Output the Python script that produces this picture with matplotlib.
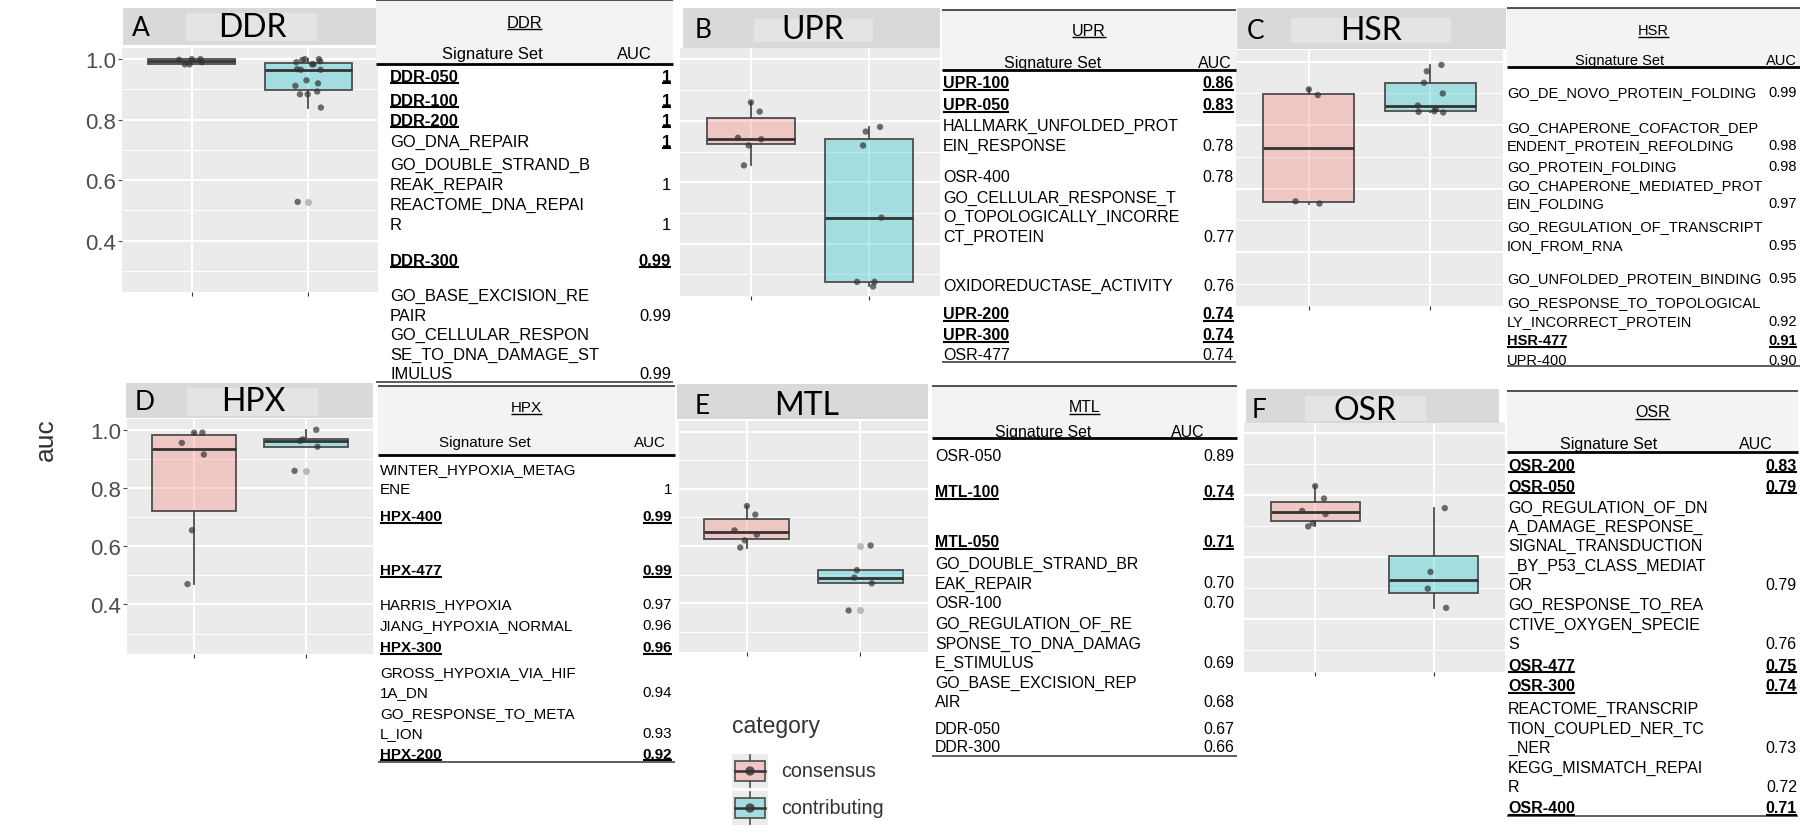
import matplotlib
matplotlib.use('Agg')
import matplotlib.pyplot as plt
from matplotlib.patches import Rectangle
import numpy as np

W, H = 1800, 829
fig = plt.figure(figsize=(18, 8.29), dpi=100)

# ---------------- data ----------------
groups = ['consensus', 'contributing']

ddr_consensus = [1.0, 1.0, 0.998, 0.99, 0.983, 0.983]
ddr_contributing = [1.0, 1.0, 0.997, 0.993, 0.99, 0.983, 0.983, 0.967, 0.965, 0.965,
                    0.93, 0.92, 0.912, 0.893, 0.884, 0.884, 0.84, 0.528]
upr_consensus = [0.86, 0.83, 0.745, 0.74, 0.72, 0.655]
upr_contributing = [0.78, 0.765, 0.72, 0.485, 0.276, 0.276, 0.261]
hsr_consensus = [0.913, 0.895, 0.56, 0.553]
hsr_contributing = [0.99, 0.97, 0.934, 0.9, 0.862, 0.85, 0.844, 0.842, 0.84]
hpx_consensus = [0.99, 0.99, 0.955, 0.915, 0.655, 0.47]
hpx_contributing = [1.0, 0.967, 0.962, 0.942, 0.859]
mtl_consensus = [0.74, 0.71, 0.655, 0.64, 0.62, 0.595]
mtl_contributing = [0.602, 0.516, 0.49, 0.47, 0.375]
osr_consensus = [0.83, 0.79, 0.75, 0.74, 0.71, 0.70]
osr_contributing = [0.759, 0.553, 0.499, 0.437]

panel_letters = ['A', 'B', 'C', 'D', 'E', 'F']
panel_titles = ['DDR', 'UPR', 'HSR', 'HPX', 'MTL', 'OSR']

y_ticks = [0.4, 0.6, 0.8, 1.0]
y_minor = [0.3, 0.5, 0.7, 0.9]

# tables: names, AUC labels, bold name flag, bold AUC flag
ddr_names = ['DDR-050', 'DDR-100', 'DDR-200', 'GO_DNA_REPAIR',
             'GO_DOUBLE_STRAND_B\nREAK_REPAIR', 'REACTOME_DNA_REPAI\nR', 'DDR-300',
             'GO_BASE_EXCISION_RE\nPAIR', 'GO_CELLULAR_RESPON\nSE_TO_DNA_DAMAGE_ST\nIMULUS']
ddr_auc = ['1', '1', '1', '1', '1', '1', '0.99', '0.99', '0.99']
ddr_bold = [1, 1, 1, 0, 0, 0, 1, 0, 0]
ddr_bold_auc = [1, 1, 1, 1, 0, 0, 1, 0, 0]

upr_names = ['UPR-100', 'UPR-050', 'HALLMARK_UNFOLDED_PROT\nEIN_RESPONSE', 'OSR-400',
             'GO_CELLULAR_RESPONSE_T\nO_TOPOLOGICALLY_INCORRE\nCT_PROTEIN',
             'OXIDOREDUCTASE_ACTIVITY', 'UPR-200', 'UPR-300', 'OSR-477']
upr_auc = ['0.86', '0.83', '0.78', '0.78', '0.77', '0.76', '0.74', '0.74', '0.74']
upr_bold = [1, 1, 0, 0, 0, 0, 1, 1, 0]
upr_bold_auc = upr_bold

hsr_names = ['GO_DE_NOVO_PROTEIN_FOLDING', 'GO_CHAPERONE_COFACTOR_DEP\nENDENT_PROTEIN_REFOLDING',
             'GO_PROTEIN_FOLDING', 'GO_CHAPERONE_MEDIATED_PROT\nEIN_FOLDING',
             'GO_REGULATION_OF_TRANSCRIPT\nION_FROM_RNA', 'GO_UNFOLDED_PROTEIN_BINDING',
             'GO_RESPONSE_TO_TOPOLOGICAL\nLY_INCORRECT_PROTEIN', 'HSR-477', 'UPR-400']
hsr_auc = ['0.99', '0.98', '0.98', '0.97', '0.95', '0.95', '0.92', '0.91', '0.90']
hsr_bold = [0, 0, 0, 0, 0, 0, 0, 1, 0]
hsr_bold_auc = hsr_bold

hpx_names = ['WINTER_HYPOXIA_METAG\nENE', 'HPX-400', 'HPX-477', 'HARRIS_HYPOXIA',
             'JIANG_HYPOXIA_NORMAL', 'HPX-300', 'GROSS_HYPOXIA_VIA_HIF\n1A_DN',
             'GO_RESPONSE_TO_META\nL_ION', 'HPX-200']
hpx_auc = ['1', '0.99', '0.99', '0.97', '0.96', '0.96', '0.94', '0.93', '0.92']
hpx_bold = [0, 1, 1, 0, 0, 1, 0, 0, 1]
hpx_bold_auc = hpx_bold

mtl_names = ['OSR-050', 'MTL-100', 'MTL-050', 'GO_DOUBLE_STRAND_BR\nEAK_REPAIR', 'OSR-100',
             'GO_REGULATION_OF_RE\nSPONSE_TO_DNA_DAMAG\nE_STIMULUS',
             'GO_BASE_EXCISION_REP\nAIR', 'DDR-050', 'DDR-300']
mtl_auc = ['0.89', '0.74', '0.71', '0.70', '0.70', '0.69', '0.68', '0.67', '0.66']
mtl_bold = [0, 1, 1, 0, 0, 0, 0, 0, 0]
mtl_bold_auc = mtl_bold

osr_names = ['OSR-200', 'OSR-050',
             'GO_REGULATION_OF_DN\nA_DAMAGE_RESPONSE_\nSIGNAL_TRANSDUCTION\n_BY_P53_CLASS_MEDIAT\nOR',
             'GO_RESPONSE_TO_REA\nCTIVE_OXYGEN_SPECIE\nS', 'OSR-477', 'OSR-300',
             'REACTOME_TRANSCRIP\nTION_COUPLED_NER_TC\n_NER', 'KEGG_MISMATCH_REPAI\nR', 'OSR-400']
osr_auc = ['0.83', '0.79', '0.79', '0.76', '0.75', '0.74', '0.73', '0.72', '0.71']
osr_bold = [1, 1, 0, 0, 1, 1, 0, 0, 1]
osr_bold_auc = osr_bold

# ---------------- layout (pixels, y downward) ----------------
panel_boxes = [(122, 49, 378, 293), (680, 49, 940, 297), (1236, 51, 1503, 307),
               (127, 420, 373, 655), (679, 422, 928, 653), (1244, 423, 1505, 673)]
strip_boxes = [(123, 9, 379, 46), (683, 9, 940, 49), (1237, 9, 1506, 50),
               (126, 384, 373, 419), (677, 385, 928, 420), (1246, 390, 1499, 424)]
strip_inner = [(186, 14, 317, 42), (754, 20, 873, 43), (1291, 19, 1451, 44),
               (187, 389, 318, 417), None, (1305, 397, 1426, 422)]
strip_letter_x = [132, 695, 1247, 135, 695, 1252]
strip_title_x = [252, 813, 1371, 253, 807, 1365]
strip_text_y = [28, 30, 31, 402, 406, 411]

tables_layout = {
    'DDR': dict(x0=376, x1=673, top=1, title_y=22, head_y=53, thick_y=65, bottom=383,
                left=390, right=671, sig_x=492, auc_x=634, fs=11.9, ls=19.7,
                rows=[76, 100, 120, 141, 164, 204, 260, 295, 334]),
    'UPR': dict(x0=942, x1=1236, top=10.7, title_y=30, head_y=62, thick_y=70.7, bottom=363.3,
                left=943, right=1234, sig_x=1053, auc_x=1215, fs=11.5, ls=19.8,
                rows=[82.7, 104.3, 125, 176.7, 196.7, 285, 313.3, 334.3, 354]),
    'HSR': dict(x0=1507, x1=1800, top=9.3, title_y=30, head_y=60, thick_y=67.7, bottom=367.4,
                left=1507, right=1797, sig_x=1620, auc_x=1781, fs=10.5, ls=18.4,
                rows=[91.8, 126.3, 165.3, 184.8, 226.2, 277.8, 301.9, 339.8, 359.3]),
    'HPX': dict(x0=378, x1=675, top=387, title_y=407, head_y=442, thick_y=456, bottom=763.3,
                left=380, right=672, sig_x=485, auc_x=650, fs=10.9, ls=20,
                rows=[469, 516, 570, 603.3, 625, 646.7, 671.7, 712.7, 753.3]),
    'MTL': dict(x0=932, x1=1237, top=386.7, title_y=406.7, head_y=431.7, thick_y=439.3,
                bottom=756.7, left=935, right=1234, sig_x=1043, auc_x=1188, fs=11.4, ls=19.5,
                rows=[455, 491.7, 541.7, 563.3, 602.7, 623.3, 681.7, 728.3, 746.7]),
    'OSR': dict(x0=1507, x1=1798, top=392, title_y=411.7, head_y=443.3, thick_y=452.7,
                bottom=817.3, left=1508, right=1797, sig_x=1609, auc_x=1756, fs=11.5, ls=19.4,
                rows=[465, 486, 506.7, 604.3, 665, 685.7, 708.3, 767.3, 807.7]),
}
table_data = {
    'DDR': (ddr_names, ddr_auc, ddr_bold, ddr_bold_auc),
    'UPR': (upr_names, upr_auc, upr_bold, upr_bold_auc),
    'HSR': (hsr_names, hsr_auc, hsr_bold, hsr_bold_auc),
    'HPX': (hpx_names, hpx_auc, hpx_bold, hpx_bold_auc),
    'MTL': (mtl_names, mtl_auc, mtl_bold, mtl_bold_auc),
    'OSR': (osr_names, osr_auc, osr_bold, osr_bold_auc),
}

panel_data = [(ddr_consensus, ddr_contributing), (upr_consensus, upr_contributing),
              (hsr_consensus, hsr_contributing), (hpx_consensus, hpx_contributing),
              (mtl_consensus, mtl_contributing), (osr_consensus, osr_contributing)]

fill_colors = ['#F8766D', '#00BFC4']
TABLE_FONT = 'Liberation Sans'
STRIP_FONT = 'Lato'


def px_axes(x0, y0, x1, y1):
    return fig.add_axes([x0 / W, 1 - y1 / H, (x1 - x0) / W, (y1 - y0) / H])


# ---------------- box panels ----------------
for i, ((cons, contr), box) in enumerate(zip(panel_data, panel_boxes)):
    ax = px_axes(*box)
    ax.set_facecolor('#ebebeb')
    bp = ax.boxplot([cons, contr], positions=[1, 2], widths=0.75, patch_artist=True,
                    whis=1.5, showcaps=False, manage_ticks=False,
                    flierprops=dict(marker='o', markerfacecolor='#aaaaaa',
                                    markeredgecolor='none', markersize=5, alpha=0.8),
                    medianprops=dict(color='#333333', lw=2.0),
                    whiskerprops=dict(color='#4d4d4d', lw=1.3),
                    boxprops=dict(edgecolor='#4d4d4d', lw=1.3))
    for patch, c in zip(bp['boxes'], fill_colors):
        patch.set_facecolor(matplotlib.colors.to_rgba(c, 0.3))
    for g, vals in enumerate([cons, contr]):
        n = len(vals)
        offs = np.array([0.11 * np.sin(k * 2.4 + g) for k in range(n)])
        ax.scatter(g + 1 + offs, vals, s=21, color='#333333', alpha=0.7,
                   edgecolors='none', zorder=5)

    ax.set_xlim(0.4, 2.6)
    ax.set_ylim(0.23, 1.037)
    ax.set_yticks(y_ticks)
    ax.set_yticks(y_minor, minor=True)
    ax.set_xticks([1, 2])
    ax.set_xticklabels(['', ''])
    ax.set_axisbelow(True)
    ax.grid(True, which='major', color='white', lw=1.5)
    ax.grid(True, which='minor', axis='y', color='white', lw=0.8)
    for s in ax.spines.values():
        s.set_visible(False)
    ax.tick_params(axis='x', length=3, color='#333333', width=0.8)
    ax.tick_params(axis='y', which='minor', length=0)
    if i in (0, 3):
        ax.tick_params(axis='y', which='major', labelsize=16, labelcolor='#4d4d4d',
                       length=3, color='#4d4d4d', pad=1)
        ax.set_yticklabels(['%.1f' % t for t in y_ticks], family='Liberation Sans')
    else:
        ax.tick_params(axis='y', which='major', labelleft=False, length=0)

# ---------------- overlay ----------------
ov = fig.add_axes([0, 0, 1, 1])
ov.set_xlim(0, W)
ov.set_ylim(H, 0)
ov.axis('off')

# strips
for i in range(6):
    x0, y0, x1, y1 = strip_boxes[i]
    ov.add_patch(Rectangle((x0, y0), x1 - x0, y1 - y0, facecolor='#d9d9d9', edgecolor='none'))
    if strip_inner[i] is not None:
        a0, b0, a1, b1 = strip_inner[i]
        ov.add_patch(Rectangle((a0, b0), a1 - a0, b1 - b0, facecolor='#e4e4e4', edgecolor='none'))
    ov.text(strip_letter_x[i], strip_text_y[i], panel_letters[i], fontsize=19,
            family=STRIP_FONT, ha='left', va='center', color='black')
    ov.text(strip_title_x[i], strip_text_y[i], panel_titles[i], fontsize=23,
            family=STRIP_FONT, ha='center', va='center', color='black')

# y label
ov.text(46, 440, 'auc', rotation=90, fontsize=19, color='#333333', ha='center',
        va='center', family='Liberation Sans')


def baseline(yc, fs):
    return yc + 0.716 * fs * 100 / 72 / 2


underlines = []


def ttext(x, yc, s, fs, ha='left', bold=False, underline=False):
    t = ov.text(x, baseline(yc, fs), s, fontsize=fs, family=TABLE_FONT, ha=ha,
                va='baseline', color='black', fontweight='bold' if bold else 'normal')
    if underline:
        underlines.append((t, baseline(yc, fs) + 2.5, 1.5 if bold else 1.0))
    return t


for key, L in tables_layout.items():
    names, aucs, bn, ba = table_data[key]
    fs = L['fs']
    ov.add_patch(Rectangle((L['x0'], L['top']), L['x1'] - L['x0'], L['thick_y'] - L['top'],
                           facecolor='#f3f3f3', edgecolor='none'))
    ov.plot([L['x0'], L['x1']], [L['top'], L['top']], color='#222222', lw=1.1,
            solid_capstyle='butt')
    ov.plot([L['x0'], L['x1']], [L['thick_y'], L['thick_y']], color='black', lw=2.0,
            solid_capstyle='butt')
    ov.plot([L['x0'], L['x1']], [L['bottom'], L['bottom']], color='#333333', lw=1.1,
            solid_capstyle='butt')
    ttext((L['x0'] + L['x1']) / 2, L['title_y'], key, fs, ha='center', underline=True)
    ttext(L['sig_x'], L['head_y'], 'Signature Set', fs, ha='center')
    ttext(L['auc_x'], L['head_y'], 'AUC', fs, ha='center')
    for name, auc, b1, b2, y0 in zip(names, aucs, bn, ba, L['rows']):
        lines = name.split('\n')
        for k, ln in enumerate(lines):
            ttext(L['left'], y0 + k * L['ls'], ln, fs, bold=bool(b1), underline=bool(b1))
        ylast = y0 + (len(lines) - 1) * L['ls']
        ttext(L['right'], ylast, auc, fs, ha='right', bold=bool(b2), underline=bool(b2))

# legend
ov.text(732, 727, 'category', fontsize=16.5, color='#333333', family='Liberation Sans',
        ha='left', va='center')
legend_y = [772, 809]
for g, yc in enumerate(legend_y):
    kx0, ky0 = 732, yc - 17
    ov.add_patch(Rectangle((kx0, ky0), 36, 34, facecolor='#ebebeb', edgecolor='none'))
    ov.add_patch(Rectangle((kx0 + 3, yc - 10), 30, 20,
                           facecolor=matplotlib.colors.to_rgba(fill_colors[g], 0.3),
                           edgecolor='#4d4d4d', lw=1.2))
    ov.plot([kx0 + 18, kx0 + 18], [ky0 + 1, yc - 10], color='#4d4d4d', lw=1.2)
    ov.plot([kx0 + 18, kx0 + 18], [yc + 10, ky0 + 33], color='#4d4d4d', lw=1.2)
    ov.plot([kx0 + 3, kx0 + 33], [yc, yc], color='#333333', lw=1.8)
    ov.scatter([kx0 + 18], [yc], s=45, color='#333333', alpha=0.8, edgecolors='none', zorder=6)
    ov.text(781, yc, groups[g], fontsize=14.2, color='#333333', family='Liberation Sans',
            ha='left', va='center')

# underline pass
fig.canvas.draw()
renderer = fig.canvas.get_renderer()
for t, yl, lw in underlines:
    bb = t.get_window_extent(renderer)
    ov.plot([bb.x0, bb.x1], [yl, yl], color='black', lw=lw, solid_capstyle='butt')

fig.savefig('out.png', dpi=100)
